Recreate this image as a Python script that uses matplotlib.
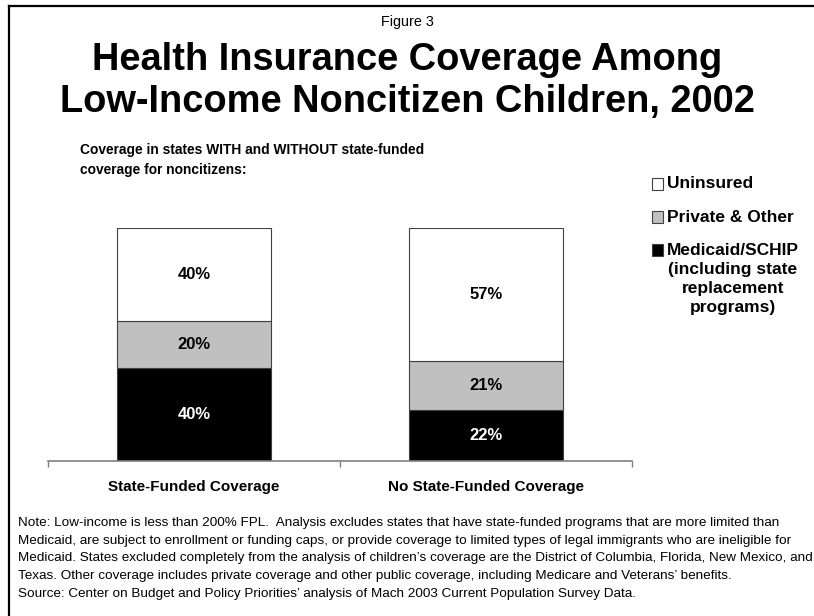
import matplotlib
matplotlib.use("Agg")
from matplotlib import pyplot as plt
from matplotlib.lines import Line2D
from matplotlib.patches import Rectangle
import numpy as np

plt.rcParams['font.family'] = ['Liberation Sans', 'DejaVu Sans']

# Coverage shares (percent) per group, stacked bottom to top
groups = ['State-Funded Coverage', 'No State-Funded Coverage']
series = ['Medicaid/SCHIP', 'Private & Other', 'Uninsured']
medicaid = [40, 22]
private_other = [20, 21]
uninsured = [40, 57]
colors = ['#000000', '#c0c0c0', '#ffffff']
label_colors = ['white', 'black', 'black']

legend_labels = ['Uninsured', 'Private & Other',
                 'Medicaid/SCHIP\n(including state\nreplacement\nprograms)']
legend_colors = ['#ffffff', '#c0c0c0', '#000000']

notes = [
    "Note: Low-income is less than 200% FPL.  Analysis excludes states that have state-funded programs that are more limited than",
    "Medicaid, are subject to enrollment or funding caps, or provide coverage to limited types of legal immigrants who are ineligible for",
    "Medicaid. States excluded completely from the analysis of children\u2019s coverage are the District of Columbia, Florida, New Mexico, and",
    "Texas. Other coverage includes private coverage and other public coverage, including Medicare and Veterans\u2019 benefits.",
    "Source: Center on Budget and Policy Priorities\u2019 analysis of Mach 2003 Current Population Survey Data.",
]

W, H = 814, 616
fig = plt.figure(figsize=(W / 100, H / 100), dpi=100)
ax = fig.add_axes([48 / W, 1 - 461 / H, (632 - 48) / W, (461 - 228) / H])

x = np.arange(len(groups))
stack = [medicaid, private_other, uninsured]
bottom = np.zeros(len(groups))
for vals, c, tc in zip(stack, colors, label_colors):
    vals = np.array(vals, dtype=float)
    ax.bar(x, vals, 0.53, bottom=bottom, color=c, edgecolor='#404040',
           linewidth=0.8)
    for xi, b, v in zip(x, bottom, vals):
        ax.text(xi, b + v / 2, f'{int(v)}%', ha='center', va='center',
                fontsize=12, fontweight='bold', color=tc)
    bottom += vals

ax.set_xlim(-0.5, len(groups) - 0.5)
ax.set_ylim(0, 100)
for s in ['top', 'right', 'left']:
    ax.spines[s].set_visible(False)
ax.spines['bottom'].set_color('#808080')
ax.spines['bottom'].set_linewidth(1.2)
ax.set_yticks([])
ax.set_xticks(np.arange(-0.5, len(groups), 1))
ax.set_xticklabels([])
ax.tick_params(axis='x', which='major', direction='out', length=4,
               color='#808080', width=1)
ax.set_xticks(x, minor=True)
ax.set_xticklabels(groups, minor=True, fontsize=11, fontweight='bold')
ax.tick_params(axis='x', which='minor', length=0, pad=14)

# titles
fig.text(0.5, 1 - 22 / H, 'Figure 3', ha='center', va='center', fontsize=10.4)
fig.text(0.5, 1 - 60 / H, 'Health Insurance Coverage Among', ha='center',
         va='center', fontsize=27.4, fontweight='bold')
fig.text(0.5, 1 - 102 / H, 'Low-Income Noncitizen Children, 2002',
         ha='center', va='center', fontsize=27.4, fontweight='bold')
fig.text(80 / W, 1 - 150 / H,
         'Coverage in states WITH and WITHOUT state-funded',
         ha='left', va='center', fontsize=9.9, fontweight='bold')
fig.text(80 / W, 1 - 170 / H, 'coverage for noncitizens:',
         ha='left', va='center', fontsize=9.9, fontweight='bold')

# legend drawn by hand, to the right of the bars
for lab, c, yc in zip(legend_labels, legend_colors, [184, 217, 250]):
    fig.patches.append(Rectangle((652 / W, 1 - (yc + 5.5) / H), 11 / W,
                                 11 / H, transform=fig.transFigure,
                                 facecolor=c, edgecolor='#404040',
                                 linewidth=0.8))
    fig.text(667 / W, 1 - (yc - 7.5) / H, lab, ha='left', va='top',
             multialignment='center', fontsize=12.5, fontweight='bold',
             linespacing=1.35)

# notes
for i, line in enumerate(notes):
    fig.text(18 / W, 1 - (523 + i * 17.7) / H, line, ha='left', va='center',
             fontsize=9.7)

# frame lines on the top and left edges
fig.add_artist(Line2D([9 / W, 1], [1 - 5.5 / H, 1 - 5.5 / H], color='black',
                      linewidth=1.6, transform=fig.transFigure))
fig.add_artist(Line2D([9 / W, 9 / W], [0, 1 - 5.5 / H], color='black',
                      linewidth=1.6, transform=fig.transFigure))

fig.savefig('out.png', dpi=100, facecolor='white')
plt.close()
